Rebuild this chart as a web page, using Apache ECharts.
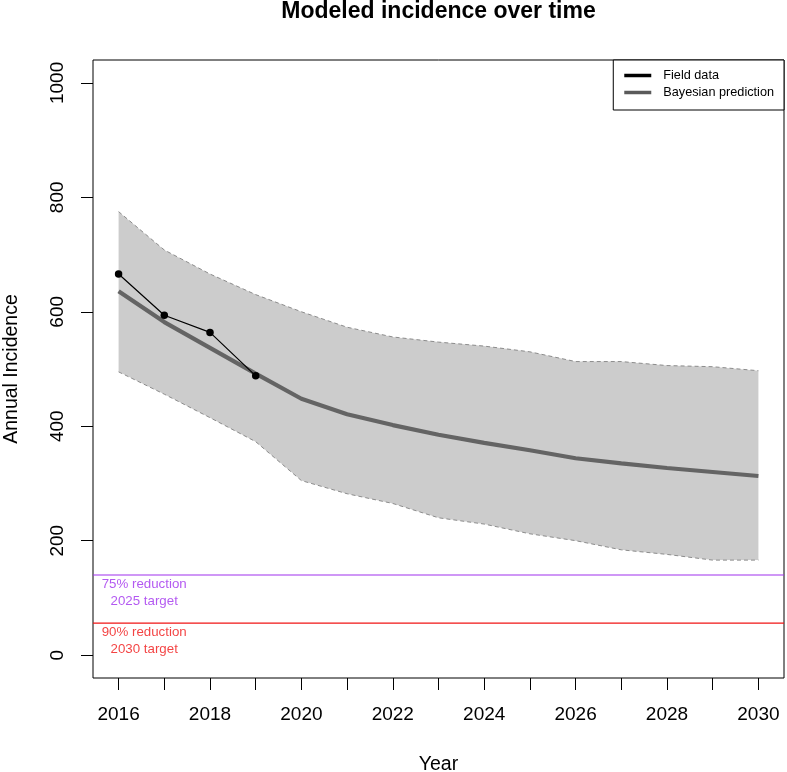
<!DOCTYPE html>
<html><head><meta charset="utf-8">
<script src="https://cdn.jsdelivr.net/npm/echarts@6/dist/echarts.min.js"></script>
<style>html,body{margin:0;padding:0;background:#fff}#c{width:787px;height:772px}</style>
</head><body><div id="c"></div>
<script>
const years = [2016,2017,2018,2019,2020,2021,2022,2023,2024,2025,2026,2027,2028,2029,2030];
const predicted = [636,582,537,492,448,421,402,385,371,358,344,335,327,320,313];
const upper = [775,708,666,630,600,573,556,547,540,530,513,513,506,504,497];
const lower = [495,456,415,373,305,282,265,240,229,212,200,184,176,166,166];
const fieldYears = [2016,2017,2018,2019];
const fieldValues = [666,594,564,488];
const targetValues = [140,56];
const targetLabels = ['75% reduction\n2025 target','90% reduction\n2030 target'];
const targetColors = ['#A030EE','#F01414'];
const xTicks = years;
const xLabels = [2016,2018,2020,2022,2024,2026,2028,2030];
const yTicks = [0,200,400,600,800,1000];

const FONT = '"Liberation Sans", Arial, Helvetica, sans-serif';
const X_MIN = 2015.44, X_MAX = 2030.56;
const pairs = (xs, ys) => xs.map((x, i) => [x, ys[i]]);
const labelX = 2016.56;

const chart = echarts.init(document.getElementById('c'), null, {renderer: 'canvas'});
chart.setOption({
  animation: false,
  backgroundColor: '#fff',
  textStyle: {fontFamily: FONT},
  graphic: [{
    type: 'text', x: 438.5, y: 12,
    style: {text: 'Modeled incidence over time', fontFamily: FONT, fontSize: 23, fontWeight: 'bold',
            fill: '#000', align: 'center', verticalAlign: 'middle'}
  }],
  legend: {
    data: [{name: 'Field data', icon: 'rect'}, {name: 'Bayesian prediction', icon: 'rect'}],
    orient: 'vertical', right: 3, top: 60,
    itemWidth: 27, itemHeight: 3.5, itemGap: 0,
    padding: [7, 10, 9, 11],
    borderColor: '#000', borderWidth: 1, borderRadius: 0, backgroundColor: '#fff',
    selectedMode: false,
    itemStyle: {borderWidth: 0},
    textStyle: {fontFamily: FONT, fontSize: 12.7, lineHeight: 17, color: '#000', padding: [0, 0, 0, 7]}
  },
  grid: {left: 93, right: 3, top: 60, bottom: 94, show: true, borderColor: '#000', borderWidth: 1,
         backgroundColor: 'transparent', containLabel: false, outerBoundsMode: 'none'},
  xAxis: {
    type: 'value', min: X_MIN, max: X_MAX,
    axisLine: {show: false, onZero: false}, splitLine: {show: false},
    axisTick: {show: true, inside: false, length: 12, lineStyle: {color: '#000', width: 1}, customValues: xTicks},
    axisLabel: {customValues: xLabels, margin: 27, fontSize: 19, color: '#000', fontFamily: FONT,
                formatter: v => String(v)},
    name: 'Year', nameLocation: 'middle', nameGap: 77,
    nameTextStyle: {fontSize: 19.5, color: '#000', fontFamily: FONT}
  },
  yAxis: {
    type: 'value', min: -40, max: 1040,
    axisLine: {show: false, onZero: false}, splitLine: {show: false},
    axisTick: {show: true, inside: false, length: 12, lineStyle: {color: '#000', width: 1}, customValues: yTicks},
    axisLabel: {customValues: yTicks, rotate: 90, margin: 26, fontSize: 19, color: '#000', fontFamily: FONT,
                formatter: v => String(v)},
    name: 'Annual Incidence', nameLocation: 'middle', nameGap: 71,
    nameTextStyle: {fontSize: 19.5, color: '#000', fontFamily: FONT}
  },
  series: [
    {name: 'band', type: 'custom', silent: true, z: 1,
     data: pairs(years, upper),
     encode: {x: 0, y: 1},
     renderItem: (params, api) => {
       if (params.dataIndex !== 0) return null;
       const top = years.map((y, i) => api.coord([y, upper[i]]));
       const bot = years.map((y, i) => api.coord([y, lower[i]])).reverse();
       return {type: 'polygon', shape: {points: top.concat(bot)}, style: {fill: '#cccccc', stroke: null}};
     }},
    {name: 'upperBound', type: 'line', data: pairs(years, upper), symbol: 'none',
     lineStyle: {color: '#8c8c8c', width: 1, type: [4, 3]}, silent: true, z: 2},
    {name: 'lowerBound', type: 'line', data: pairs(years, lower), symbol: 'none',
     lineStyle: {color: '#8c8c8c', width: 1, type: [4, 3]}, silent: true, z: 2},
    {name: 'Bayesian prediction', type: 'line', data: pairs(years, predicted), symbol: 'none',
     color: '#5a5a5a', lineStyle: {color: '#646464', width: 4.2}, z: 3},
    {name: 'Field data', type: 'line', data: pairs(fieldYears, fieldValues), symbol: 'circle', symbolSize: 7.5,
     color: '#000', lineStyle: {color: '#000', width: 1.2}, itemStyle: {color: '#000'}, z: 4},
    {name: 'target75', type: 'line', data: [[X_MIN, targetValues[0]], [X_MAX, targetValues[0]]], symbol: 'none',
     lineStyle: {color: targetColors[0], width: 1.2}, silent: true, z: 5},
    {name: 'target90', type: 'line', data: [[X_MIN, targetValues[1]], [X_MAX, targetValues[1]]], symbol: 'none',
     lineStyle: {color: targetColors[1], width: 1.2}, silent: true, z: 5},
    {name: 'targetLabels', type: 'scatter', symbolSize: 0, silent: true, z: 6,
     data: targetValues.map((v, i) => ({
       value: [labelX, v],
       label: {show: true, position: 'bottom', distance: 1, formatter: targetLabels[i],
               color: targetColors[i], fontSize: 13.3, lineHeight: 17, align: 'center', fontFamily: FONT}
     }))}
  ]
});
</script>
</body></html>
